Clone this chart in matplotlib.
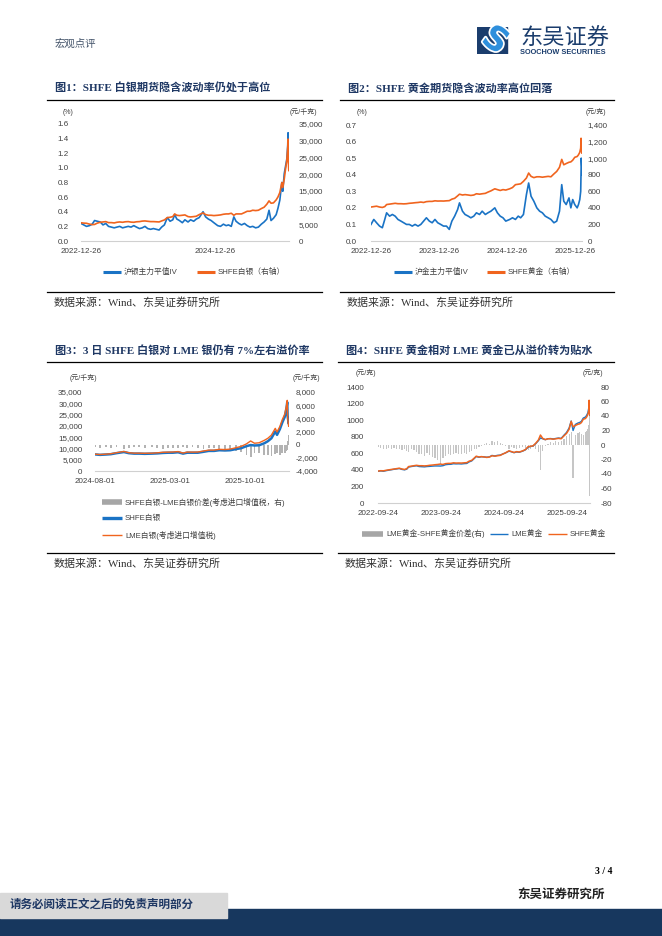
import matplotlib
matplotlib.use('Agg')
import matplotlib.pyplot as plt
import matplotlib.dates as mdates
import matplotlib.patheffects as pe
from matplotlib.lines import Line2D
from matplotlib.patches import Rectangle
from matplotlib.ticker import FuncFormatter, MultipleLocator
import pandas as pd

plt.rcParams['font.family'] = ['Liberation Sans', 'Noto Sans CJK SC']
plt.rcParams['axes.unicode_minus'] = False

W, H = 662, 936
BLUE = '#1a73c5'
ORANGE = '#f0641e'
NAVY = '#1f3864'

# ---- fig 1: silver IV vs SHFE silver ----
ag_dates = ['2022-12-26', '2023-01-10', '2023-01-25', '2023-02-10', '2023-02-25', '2023-03-10', '2023-03-25',
            '2023-04-10', '2023-04-25', '2023-05-10', '2023-05-25', '2023-06-10', '2023-06-25', '2023-07-10',
            '2023-07-25', '2023-08-10', '2023-08-25', '2023-09-10', '2023-09-25', '2023-10-10', '2023-10-25',
            '2023-11-10', '2023-11-25', '2023-12-10', '2023-12-25', '2024-01-10', '2024-01-25', '2024-02-10',
            '2024-02-25', '2024-03-10', '2024-03-25', '2024-04-10', '2024-04-25', '2024-05-10', '2024-05-20',
            '2024-06-01', '2024-06-15', '2024-07-01', '2024-07-15', '2024-08-01', '2024-08-15', '2024-09-01',
            '2024-09-15', '2024-10-01', '2024-10-22', '2024-11-05', '2024-11-20', '2024-12-05', '2024-12-20',
            '2025-01-10', '2025-01-25', '2025-02-10', '2025-02-25', '2025-03-10', '2025-03-25', '2025-04-08',
            '2025-04-20', '2025-05-05', '2025-05-20', '2025-06-05', '2025-06-20', '2025-07-05', '2025-07-20',
            '2025-08-05', '2025-08-20', '2025-09-05', '2025-09-20', '2025-10-05', '2025-10-17', '2025-10-28',
            '2025-11-10', '2025-11-25', '2025-12-05', '2025-12-15', '2025-12-26', '2025-12-31', '2026-01-08',
            '2026-01-15', '2026-01-22', '2026-01-27', '2026-01-29', '2026-01-30', '2026-02-02', '2026-02-03']
ag_iv = [0.24, 0.22, 0.20, 0.21, 0.23, 0.28, 0.27, 0.26, 0.22, 0.24, 0.20, 0.19, 0.18, 0.19,
         0.20, 0.18, 0.19, 0.20, 0.19, 0.21, 0.19, 0.17, 0.18, 0.20, 0.17, 0.16, 0.17, 0.16,
         0.15, 0.19, 0.22, 0.32, 0.27, 0.29, 0.36, 0.30, 0.28, 0.25, 0.29, 0.26, 0.29, 0.27,
         0.30, 0.32, 0.40, 0.33, 0.30, 0.28, 0.25, 0.21, 0.20, 0.23, 0.21, 0.22, 0.20, 0.33,
         0.27, 0.24, 0.22, 0.24, 0.21, 0.19, 0.20, 0.18, 0.19, 0.23, 0.26, 0.30, 0.42, 0.28,
         0.31, 0.36, 0.45, 0.56, 0.80, 0.68, 0.92, 1.02, 1.12, 1.30, 1.48, 1.20, 1.05, 0.98]
ag_price = [5450, 5350, 5300, 5050, 4900, 4950, 5350, 5600, 5700, 5800, 5500, 5500, 5400, 5600,
            5700, 5600, 5750, 5800, 5650, 5600, 5750, 5800, 5950, 6000, 5900, 5800, 5800, 5750,
            5700, 6000, 6300, 7000, 7100, 7300, 8100, 7700, 7600, 7700, 7800, 7300, 7200, 7300,
            7400, 7900, 8400, 7900, 7700, 7700, 7600, 7700, 7800, 8000, 8100, 8100, 8300, 7700,
            8100, 8100, 8100, 8500, 8900, 8900, 9200, 9100, 9200, 9700, 10100, 11000, 12000, 11300,
            11400, 12300, 13200, 14500, 17500, 16000, 18500, 21500, 24000, 28000, 30500, 24500, 21000, 22000]

# ---- fig 2: gold IV vs SHFE gold ----
au_dates = ['2022-12-26', '2023-01-10', '2023-01-25', '2023-02-10', '2023-02-25', '2023-03-10', '2023-03-20',
            '2023-04-05', '2023-04-20', '2023-05-05', '2023-05-20', '2023-06-05', '2023-06-20', '2023-07-05',
            '2023-07-20', '2023-08-05', '2023-08-20', '2023-09-05', '2023-09-20', '2023-10-05', '2023-10-20',
            '2023-11-05', '2023-11-20', '2023-12-05', '2023-12-20', '2024-01-05', '2024-01-20', '2024-02-05',
            '2024-02-20', '2024-03-05', '2024-03-20', '2024-04-05', '2024-04-15', '2024-05-01', '2024-05-15',
            '2024-06-01', '2024-06-15', '2024-07-01', '2024-07-15', '2024-08-01', '2024-08-15', '2024-09-01',
            '2024-09-15', '2024-10-01', '2024-10-22', '2024-11-05', '2024-11-20', '2024-12-05', '2024-12-20',
            '2025-01-10', '2025-01-25', '2025-02-10', '2025-02-25', '2025-03-10', '2025-03-25', '2025-04-10',
            '2025-04-22', '2025-05-05', '2025-05-20', '2025-06-05', '2025-06-20', '2025-07-05', '2025-07-20',
            '2025-08-05', '2025-08-20', '2025-09-05', '2025-09-20', '2025-10-05', '2025-10-17', '2025-10-28',
            '2025-11-10', '2025-11-25', '2025-12-05', '2025-12-15', '2025-12-26', '2026-01-08', '2026-01-15',
            '2026-01-22', '2026-01-27', '2026-01-29', '2026-01-30', '2026-02-02', '2026-02-03']
au_iv = [0.10, 0.13, 0.11, 0.09, 0.08, 0.13, 0.17, 0.15, 0.16, 0.15, 0.13, 0.12, 0.11, 0.10,
         0.10, 0.09, 0.10, 0.09, 0.10, 0.12, 0.14, 0.12, 0.11, 0.13, 0.11, 0.10, 0.09, 0.09,
         0.07, 0.12, 0.15, 0.19, 0.23, 0.18, 0.16, 0.15, 0.14, 0.15, 0.17, 0.16, 0.18, 0.16,
         0.17, 0.18, 0.20, 0.17, 0.15, 0.14, 0.12, 0.13, 0.14, 0.13, 0.15, 0.14, 0.16, 0.28,
         0.35, 0.27, 0.24, 0.20, 0.18, 0.17, 0.15, 0.14, 0.13, 0.11, 0.12, 0.18, 0.34, 0.24,
         0.22, 0.26, 0.20, 0.25, 0.22, 0.20, 0.22, 0.25, 0.30, 0.42, 0.50, 0.45, 0.40]
au_price = [410, 415, 420, 410, 405, 415, 440, 445, 450, 455, 450, 450, 448, 450,
            455, 458, 462, 465, 470, 465, 475, 478, 478, 485, 482, 483, 482, 485,
            487, 505, 515, 545, 565, 555, 560, 555, 550, 555, 570, 565, 570, 575,
            590, 605, 630, 620, 610, 620, 615, 630, 645, 680, 685, 690, 720, 760,
            820, 780, 765, 775, 775, 770, 775, 780, 775, 810, 840, 890, 985, 920,
            935, 950, 955, 975, 1010, 1020, 1040, 1070, 1120, 1240, 1150, 1060, 1080]

# ---- fig 3: SHFE silver vs LME silver ----
ag2_dates = ['2024-08-01', '2024-08-15', '2024-09-01', '2024-09-15', '2024-10-01', '2024-10-22', '2024-11-05',
             '2024-11-20', '2024-12-05', '2024-12-20', '2025-01-10', '2025-01-25', '2025-02-10', '2025-02-25',
             '2025-03-10', '2025-03-25', '2025-04-08', '2025-04-20', '2025-05-05', '2025-05-20', '2025-06-05',
             '2025-06-20', '2025-07-05', '2025-07-20', '2025-08-05', '2025-08-20', '2025-09-05', '2025-09-20',
             '2025-10-05', '2025-10-17', '2025-10-28', '2025-11-10', '2025-11-25', '2025-12-05', '2025-12-15',
             '2025-12-26', '2025-12-31', '2026-01-08', '2026-01-15', '2026-01-22', '2026-01-27', '2026-01-29',
             '2026-01-30', '2026-02-02', '2026-02-03']
ag2_shfe = [7350, 7150, 7300, 7450, 7900, 8400, 7900, 7700, 7700, 7600, 7700, 7800, 8000, 8100,
            8100, 8300, 7700, 8100, 8100, 8100, 8500, 8900, 8900, 9200, 9100, 9200, 9700, 10100,
            11000, 11500, 11300, 11400, 12300, 13200, 14500, 17500, 16000, 18500, 21500, 24000, 28000, 30500,
            24500, 21000, 22000]
ag2_lme = [7450, 7300, 7450, 7650, 8100, 8650, 8100, 7900, 7900, 7850, 7900, 8050, 8300, 8350,
           8400, 8600, 7950, 8400, 8350, 8400, 8850, 9250, 9250, 9600, 9500, 9700, 10300, 10900,
           12000, 13300, 12300, 12500, 13600, 14500, 15900, 18900, 17300, 19700, 22800, 25200, 29000, 31300,
           23900, 19800, 20600]
ag2_spread = [-300, -450, -350, -500, -400, -600, -450, -350, -400, -550, -400, -500, -600, -450,
              -500, -550, -400, -550, -350, -500, -600, -450, -550, -650, -600, -800, -900, -1100,
              -1500, -1900, -1200, -1300, -1600, -1500, -1700, -1400, -1200, -1500, -1300, -1200, -1000, -800,
              600, 1200, 1500]

# ---- fig 4: SHFE gold vs LME gold ----
au2_dates = ['2022-09-24', '2022-10-10', '2022-10-25', '2022-11-10', '2022-11-25', '2022-12-10', '2022-12-26',
             '2023-01-10', '2023-01-25', '2023-02-10', '2023-02-25', '2023-03-10', '2023-03-20', '2023-04-05',
             '2023-04-20', '2023-05-05', '2023-05-20', '2023-06-05', '2023-06-20', '2023-07-05', '2023-07-20',
             '2023-08-05', '2023-08-20', '2023-09-05', '2023-09-20', '2023-10-05', '2023-10-20', '2023-11-05',
             '2023-11-20', '2023-12-05', '2023-12-20', '2024-01-05', '2024-01-20', '2024-02-05', '2024-02-20',
             '2024-03-05', '2024-03-20', '2024-04-05', '2024-04-15', '2024-05-01', '2024-05-15', '2024-06-01',
             '2024-06-15', '2024-07-01', '2024-07-15', '2024-08-01', '2024-08-15', '2024-09-01', '2024-09-15',
             '2024-10-01', '2024-10-22', '2024-11-05', '2024-11-20', '2024-12-05', '2024-12-20', '2025-01-10',
             '2025-01-25', '2025-02-10', '2025-02-25', '2025-03-10', '2025-03-25', '2025-04-10', '2025-04-22',
             '2025-05-05', '2025-05-20', '2025-06-05', '2025-06-20', '2025-07-05', '2025-07-20', '2025-08-05',
             '2025-08-20', '2025-09-05', '2025-09-20', '2025-10-05', '2025-10-17', '2025-10-28', '2025-11-10',
             '2025-11-25', '2025-12-05', '2025-12-15', '2025-12-26', '2026-01-08', '2026-01-15', '2026-01-22',
             '2026-01-27', '2026-01-29', '2026-01-30', '2026-02-02', '2026-02-03']
au2_shfe = [385, 390, 388, 395, 400, 405, 410, 415, 420, 410, 405, 415, 440, 445,
            450, 455, 450, 450, 448, 450, 455, 458, 462, 465, 470, 465, 475, 478,
            478, 485, 482, 483, 482, 485, 487, 505, 515, 545, 565, 555, 560, 555,
            550, 555, 570, 565, 570, 575, 590, 605, 630, 620, 610, 620, 615, 630,
            645, 680, 685, 690, 720, 760, 820, 780, 765, 775, 775, 770, 775, 780,
            775, 810, 840, 890, 985, 920, 935, 950, 955, 970, 1010, 1020, 1040, 1070,
            1120, 1240, 1150, 1060, 1080]
au2_lme = [383, 387, 383, 390, 396, 401, 407, 411, 416, 405, 400, 409, 433, 440,
           445, 449, 440, 438, 436, 440, 442, 445, 447, 447, 446, 450, 462, 466,
           467, 474, 472, 473, 471, 475, 477, 496, 508, 540, 560, 552, 558, 556,
           553, 557, 574, 568, 575, 578, 591, 604, 626, 618, 607, 616, 612, 627,
           642, 675, 682, 688, 715, 752, 785, 775, 764, 776, 778, 773, 779, 784,
           780, 818, 851, 905, 990, 875, 948, 965, 972, 985, 1025, 1038, 1060, 1090,
           1150, 1170, 1190, 1055, 1100]
au2_spread = [-3, -4, -6, -5, -4, -5, -4, -5, -6, -7, -5, -8, -10, -6,
              -7, -9, -12, -13, -15, -11, -14, -16, -18, -20, -26, -18, -15, -13,
              -14, -12, -11, -12, -13, -11, -12, -10, -8, -6, -5, -3, -2, 1,
              3, 2, 5, 4, 6, 3, 1, -2, -5, -3, -4, -6, -4, -3,
              -4, -7, -5, -3, -6, -10, -35, -8, -2, 2, 4, 3, 5, 4,
              6, 8, 12, 15, 18, -45, 14, 16, 18, 15, 14, 18, 20, 22,
              28, -70, 40, -5, 20]

fig = plt.figure(figsize=(W / 100, H / 100), dpi=100)


def rect(x0, y0, x1, y1):
    return [x0 / W, 1 - y1 / H, (x1 - x0) / W, (y1 - y0) / H]


def ftext(x, y, s, **kw):
    kw.setdefault('va', 'center')
    return fig.text(x / W, 1 - y / H, s, **kw)


def fline(x0, x1, y, **kw):
    fig.add_artist(Line2D([x0 / W, x1 / W], [1 - y / H, 1 - y / H], transform=fig.transFigure, **kw))


def comma(v, pos):
    return f'{v:,.0f}'


def style(ax, ax2, xticks, xlim, lpad, rpad):
    for a in (ax, ax2):
        for s in ['top', 'left', 'right', 'bottom']:
            a.spines[s].set_visible(False)
        a.tick_params(axis='both', length=0, labelsize=5.8, labelcolor='#404040')
    ax.spines['bottom'].set_visible(True)
    ax.spines['bottom'].set_color('#d0d0d0')
    ax.spines['bottom'].set_linewidth(0.8)
    ax.tick_params(axis='y', pad=lpad)
    ax2.tick_params(axis='y', pad=rpad)
    ax.tick_params(axis='x', pad=5)
    ax.set_xticks(pd.to_datetime(xticks))
    ax.xaxis.set_major_formatter(mdates.DateFormatter('%Y-%m-%d'))
    ax.set_xlim(pd.to_datetime(xlim[0]), pd.to_datetime(xlim[1]))


def frame(x0, x1, title, rule_y, src_y):
    ftext(x0 + 8, rule_y - 12, title, fontsize=8, fontweight='bold', color=NAVY,
          family=['Liberation Serif', 'Noto Sans CJK SC'])
    fline(x0, x1, rule_y, color='black', lw=0.9)
    fline(x0, x1, src_y, color='black', lw=0.9)
    ftext(x0 + 7, src_y + 10, '数据来源：Wind、东吴证券研究所', fontsize=7.9, color='#333333',
          family=['Liberation Serif', 'Noto Sans CJK SC'])


def legend_item(x, y, color, lw, label, length=18):
    fline(x, x + length, y, color=color, lw=lw, solid_capstyle='butt')
    ftext(x + length + 3, y, label, fontsize=5.6, color='#404040')


# ---------- chart 1 ----------
d = pd.to_datetime(ag_dates)
ax1 = fig.add_axes(rect(81, 124, 289, 241))
ax1b = ax1.twinx()
ax1.plot(d, ag_iv, color=BLUE, lw=1.2)
ax1b.plot(d, ag_price, color=ORANGE, lw=1.2)
ax1.set_ylim(0, 1.6)
ax1.yaxis.set_major_locator(MultipleLocator(0.2))
ax1.yaxis.set_major_formatter(FuncFormatter(lambda v, p: f'{v:.1f}'))
ax1b.set_ylim(0, 35000)
ax1b.yaxis.set_major_locator(MultipleLocator(5000))
ax1b.yaxis.set_major_formatter(FuncFormatter(comma))
style(ax1, ax1b, ['2022-12-26', '2024-12-26'], ('2022-12-26', '2026-02-03'), 9, 7)
ftext(68, 112, '(%)', fontsize=5, ha='center', color='#404040')
ftext(303, 112, '(元/千克)', fontsize=5, ha='center', color='#404040')
frame(47, 322, '图1：SHFE 白银期货隐含波动率仍处于高位', 100, 292)
legend_item(103, 272, BLUE, 2.2, '沪银主力平值IV')
legend_item(197, 272, ORANGE, 2.2, 'SHFE白银（右轴）')

# ---------- chart 2 ----------
d = pd.to_datetime(au_dates)
ax2 = fig.add_axes(rect(371, 125, 582, 241))
ax2b = ax2.twinx()
ax2.plot(d, au_iv, color=BLUE, lw=1.2)
ax2b.plot(d, au_price, color=ORANGE, lw=1.2)
ax2.set_ylim(0, 0.7)
ax2.yaxis.set_major_locator(MultipleLocator(0.1))
ax2.yaxis.set_major_formatter(FuncFormatter(lambda v, p: f'{v:.1f}'))
ax2b.set_ylim(0, 1400)
ax2b.yaxis.set_major_locator(MultipleLocator(200))
ax2b.yaxis.set_major_formatter(FuncFormatter(comma))
style(ax2, ax2b, ['2022-12-26', '2023-12-26', '2024-12-26', '2025-12-26'],
      ('2022-12-26', '2026-02-03'), 10, 4)
ftext(362, 112, '(%)', fontsize=5, ha='center', color='#404040')
ftext(596, 112, '(元/克)', fontsize=5, ha='center', color='#404040')
frame(340, 614, '图2：SHFE 黄金期货隐含波动率高位回落', 100, 292)
legend_item(394, 272, BLUE, 2.2, '沪金主力平值IV')
legend_item(487, 272, ORANGE, 2.2, 'SHFE黄金（右轴）')

# ---------- chart 3 ----------
d = pd.to_datetime(ag2_dates)
ax3 = fig.add_axes(rect(95, 392, 289, 471))
ax3b = ax3.twinx()
ax3b.bar(d, ag2_spread, width=5, color='#b3b3b3')
ax3.plot(d, ag2_shfe, color=BLUE, lw=1.8)
ax3.plot(d, ag2_lme, color=ORANGE, lw=1.0)
ax3.set_zorder(ax3b.get_zorder() + 1)
ax3.patch.set_visible(False)
ax3.set_ylim(0, 35000)
ax3.yaxis.set_major_locator(MultipleLocator(5000))
ax3.yaxis.set_major_formatter(FuncFormatter(comma))
ax3b.set_ylim(-4000, 8000)
ax3b.yaxis.set_major_locator(MultipleLocator(2000))
ax3b.yaxis.set_major_formatter(FuncFormatter(comma))
style(ax3, ax3b, ['2024-08-01', '2025-03-01', '2025-10-01'], ('2024-08-01', '2026-02-03'), 9, 5)
ftext(83, 378, '(元/千克)', fontsize=5, ha='center', color='#404040')
ftext(306, 378, '(元/千克)', fontsize=5, ha='center', color='#404040')
frame(47, 322, '图3：3 日 SHFE 白银对 LME 银仍有 7%左右溢价率', 362, 553)
legend_item(102, 502, '#a6a6a6', 4, 'SHFE白银-LME白银价差(考虑进口增值税，右)', 20)
legend_item(102, 518, BLUE, 2.4, 'SHFE白银', 20)
legend_item(102, 535, ORANGE, 1.0, 'LME白银(考虑进口增值税)', 20)

# ---------- chart 4 ----------
d = pd.to_datetime(au2_dates)
ax4 = fig.add_axes(rect(378, 387, 590, 503))
ax4b = ax4.twinx()
ax4b.bar(d, au2_spread, width=7, color='#c6c6c6')
ax4.plot(d, au2_lme, color=BLUE, lw=1.0)
ax4.plot(d, au2_shfe, color=ORANGE, lw=1.1)
ax4.set_zorder(ax4b.get_zorder() + 1)
ax4.patch.set_visible(False)
ax4.set_ylim(0, 1400)
ax4.yaxis.set_major_locator(MultipleLocator(200))
ax4b.set_ylim(-80, 80)
ax4b.yaxis.set_major_locator(MultipleLocator(20))
style(ax4, ax4b, ['2022-09-24', '2023-09-24', '2024-09-24', '2025-09-24'], ('2022-09-24', '2026-02-03'), 10, 8)
ftext(366, 373, '(元/克)', fontsize=5, ha='center', color='#404040')
ftext(593, 373, '(元/克)', fontsize=5, ha='center', color='#404040')
frame(338, 614, '图4：SHFE 黄金相对 LME 黄金已从溢价转为贴水', 362, 553)
legend_item(362, 534, '#a6a6a6', 4, 'LME黄金-SHFE黄金价差(右)', 21)
legend_item(490, 534, BLUE, 1.0, 'LME黄金', 18)
legend_item(548, 534, ORANGE, 1.0, 'SHFE黄金', 19)

# ---------- header ----------
ftext(55, 44, '宏观点评', fontsize=7.5, color='#44546a')
logo = fig.add_axes(rect(477, 27, 513, 54))
logo.set_axis_off()
logo.set_xlim(0, 36)
logo.set_ylim(0, 27)
logo.add_patch(Rectangle((0, 0), 30, 27, color='#1b3d6d'))
logo.text(18, 13.5, 'S', fontsize=24, fontweight='bold', color='#2e8fdc', rotation=-35,
          ha='center', va='center', family='DejaVu Sans',
          path_effects=[pe.withStroke(linewidth=2.5, foreground='white')])
ftext(520, 38, '东吴证券', fontsize=16, color='#1b3d6d', fontweight='medium', family='Noto Sans CJK SC')
ftext(520, 53, 'SOOCHOW SECURITIES', fontsize=5.3, fontweight='bold', color='#1b3d6d')

# ---------- footer ----------
ftext(612, 872, '3 / 4', fontsize=7, fontweight='bold', ha='right', family=['Liberation Serif', 'Noto Sans CJK SC'])
ftext(605, 895, '东吴证券研究所', fontsize=9, fontweight='bold', ha='right', color='#222222')
fig.add_artist(Rectangle((0, 0), 1, 27 / H, transform=fig.transFigure, color='#17375e'))
fig.add_artist(Rectangle((0, 1 - 918 / H), 227 / W, 25 / H, transform=fig.transFigure, color='#d9d9d9'))
ftext(10, 905, '请务必阅读正文之后的免责声明部分', fontsize=8.3, fontweight='bold', color=NAVY)

fig.savefig('out.png', dpi=100)
